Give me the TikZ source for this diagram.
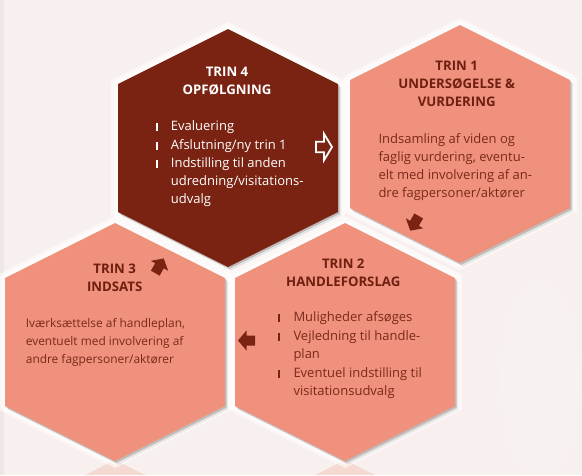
\documentclass[tikz,border=0pt]{standalone}
\usepackage{fontspec}
\setmainfont{Open Sans}
\definecolor{maroon}{HTML}{7A2312}
\definecolor{salmon}{HTML}{F0917D}
\definecolor{hdtxt}{HTML}{6E1F10}
\definecolor{bdtxt}{HTML}{7A2A1A}
\definecolor{bg}{HTML}{F7F0EE}
\definecolor{ghost}{HTML}{F5DAD2}
\tikzset{
  hexa/.pic={
    \fill[white,opacity=0.55] (0,-126) -- (117,-67.5) -- (117,67.5) -- (0,126) -- (-117,67.5) -- (-117,-67.5) -- cycle;
    \fill[white,opacity=0.6] (0,-123) -- (114,-66) -- (114,66) -- (0,123) -- (-114,66) -- (-114,-66) -- cycle;
    \fill[black,opacity=0.08,shift={(3,3.5)}] (0,-119) -- (110,-64) -- (110,64) -- (0,119) -- (-110,64) -- (-110,-64) -- cycle;
    \fill[black,opacity=0.18,shift={(1.5,1.8)}] (0,-119) -- (110,-64) -- (110,64) -- (0,119) -- (-110,64) -- (-110,-64) -- cycle;
    \fill[#1] (0,-119) -- (110,-64) -- (110,64) -- (0,119) -- (-110,64) -- (-110,-64) -- cycle;
  },
  blockarr/.pic={
    \path[pic actions] (-8.5,-5) -- (0,-5) -- (0,-10) -- (8.5,0) -- (0,10) -- (0,5) -- (-8.5,5) -- cycle;
  },
  hd/.style={font=\bfseries\fontsize{13.2}{15}\selectfont, anchor=base, inner sep=0pt},
  bd/.style={font=\fontsize{13}{15}\selectfont, anchor=base west, inner sep=0pt},
  bdsmall/.style={font=\fontsize{11.9}{15}\selectfont, anchor=base west, inner sep=0pt},
  lt/.style={text=white},
  dkh/.style={text=hdtxt},
  dkb/.style={text=bdtxt},
}
\begin{document}
\begin{tikzpicture}[x=1pt,y=-1pt]
\useasboundingbox (0,0) rectangle (582,475);
\fill[bg] (0,0) rectangle (582,475);
\fill[white,opacity=0.12] (540,380) ellipse (40 and 100);
\fill[black,opacity=0.035] (0,0) rectangle (4,475);
% ghost reflections
\fill[ghost] (115,460) -- (145,475) -- (85,475) -- cycle;
\fill[ghost] (345,460) -- (375,475) -- (315,475) -- cycle;
% hexagons
\coordinate (c4) at (228,148);
\coordinate (c1) at (460,144);
\coordinate (c3) at (115,342);
\coordinate (c2) at (345,342);
\pic at (c3) {hexa=salmon};
\pic at (c2) {hexa=salmon};
\pic at (c4) {hexa=maroon};
\pic at (c1) {hexa=salmon};
% TRIN 4
\node[hd,lt] (t4a) at (227,76) {TRIN 4};
\node[hd,lt] (t4b) at (227,94) {OPFØLGNING};
\foreach \y in {130.7,149,167.3} \fill[white] (155.7,\y-7.5) rectangle ++(2.6,8);
\node[bd,lt] (t4l1) at (170.7,130.7) {Evaluering};
\node[bd,lt] (t4l2) at (170.7,149) {Afslutning/ny trin 1};
\node[bd,lt] (t4l3) at (170.7,167.3) {Indstilling til anden};
\node[bd,lt] (t4l4) at (170.7,185.6) {udredning/visitations-};
\node[bd,lt] (t4l5) at (170.7,203.9) {udvalg};
% TRIN 1
\node[hd,dkh] (t1a) at (456.7,70) {TRIN 1};
\node[hd,dkh] (t1b) at (456.7,88) {UNDERSØGELSE \&};
\node[hd,dkh] (t1c) at (456.7,106) {VURDERING};
\node[bd,dkb] (t1l1) at (378.3,143.3) {Indsamling af viden og};
\node[bd,dkb] (t1l2) at (378.3,161.2) {faglig vurdering, eventu-};
\node[bd,dkb] (t1l3) at (378.3,179.1) {elt med involvering af an-};
\node[bd,dkb] (t1l4) at (378.3,197) {dre fagpersoner/aktører};
% TRIN 2
\node[hd,dkh] (t2a) at (343.3,268.3) {TRIN 2};
\node[hd,dkh] (t2b) at (343.3,286) {HANDLEFORSLAG};
\foreach \y in {321.7,340.2,377.2} \fill[maroon] (277.7,\y-7.5) rectangle ++(2.6,8);
\node[bd,dkb] (t2l1) at (293.3,321.7) {Muligheder afsøges};
\node[bd,dkb] (t2l2) at (293.3,340.2) {Vejledning til handle-};
\node[bd,dkb] (t2l3) at (293.3,358.7) {plan};
\node[bd,dkb] (t2l4) at (293.3,377.2) {Eventuel indstilling til};
\node[bd,dkb] (t2l5) at (293.3,395.2) {visitationsudvalg};
% TRIN 3
\node[hd,dkh] (t3a) at (114.7,273.3) {TRIN 3};
\node[hd,dkh] (t3b) at (114.7,291) {INDSATS};
\node[bdsmall,dkb] (t3l1) at (25.7,327.3) {Iværksættelse af handleplan,};
\node[bdsmall,dkb] (t3l2) at (25.7,345.3) {eventuelt med involvering af};
\node[bdsmall,dkb] (t3l3) at (25.7,363.3) {andre fagpersoner/aktører};
% arrows
\coordinate (a4) at (324,147);
\coordinate (a1) at (414.5,223.3);
\coordinate (a2) at (246.5,340.5);
\coordinate (a3) at (159.5,265.8);
\path[draw=white,fill=maroon,line width=1.8,line join=miter,shift={(a4)}]
  (-8,-5.2) -- (0,-5.2) -- (0,-13.2) -- (8,0) -- (0,13.2) -- (0,5.2) -- (-8,5.2) -- cycle;
\pic[fill=maroon,rotate=240] at (a1) {blockarr};
\pic[fill=maroon,rotate=180] at (a2) {blockarr};
\pic[fill=maroon,rotate=60] at (a3) {blockarr};
\end{tikzpicture}
\end{document}
